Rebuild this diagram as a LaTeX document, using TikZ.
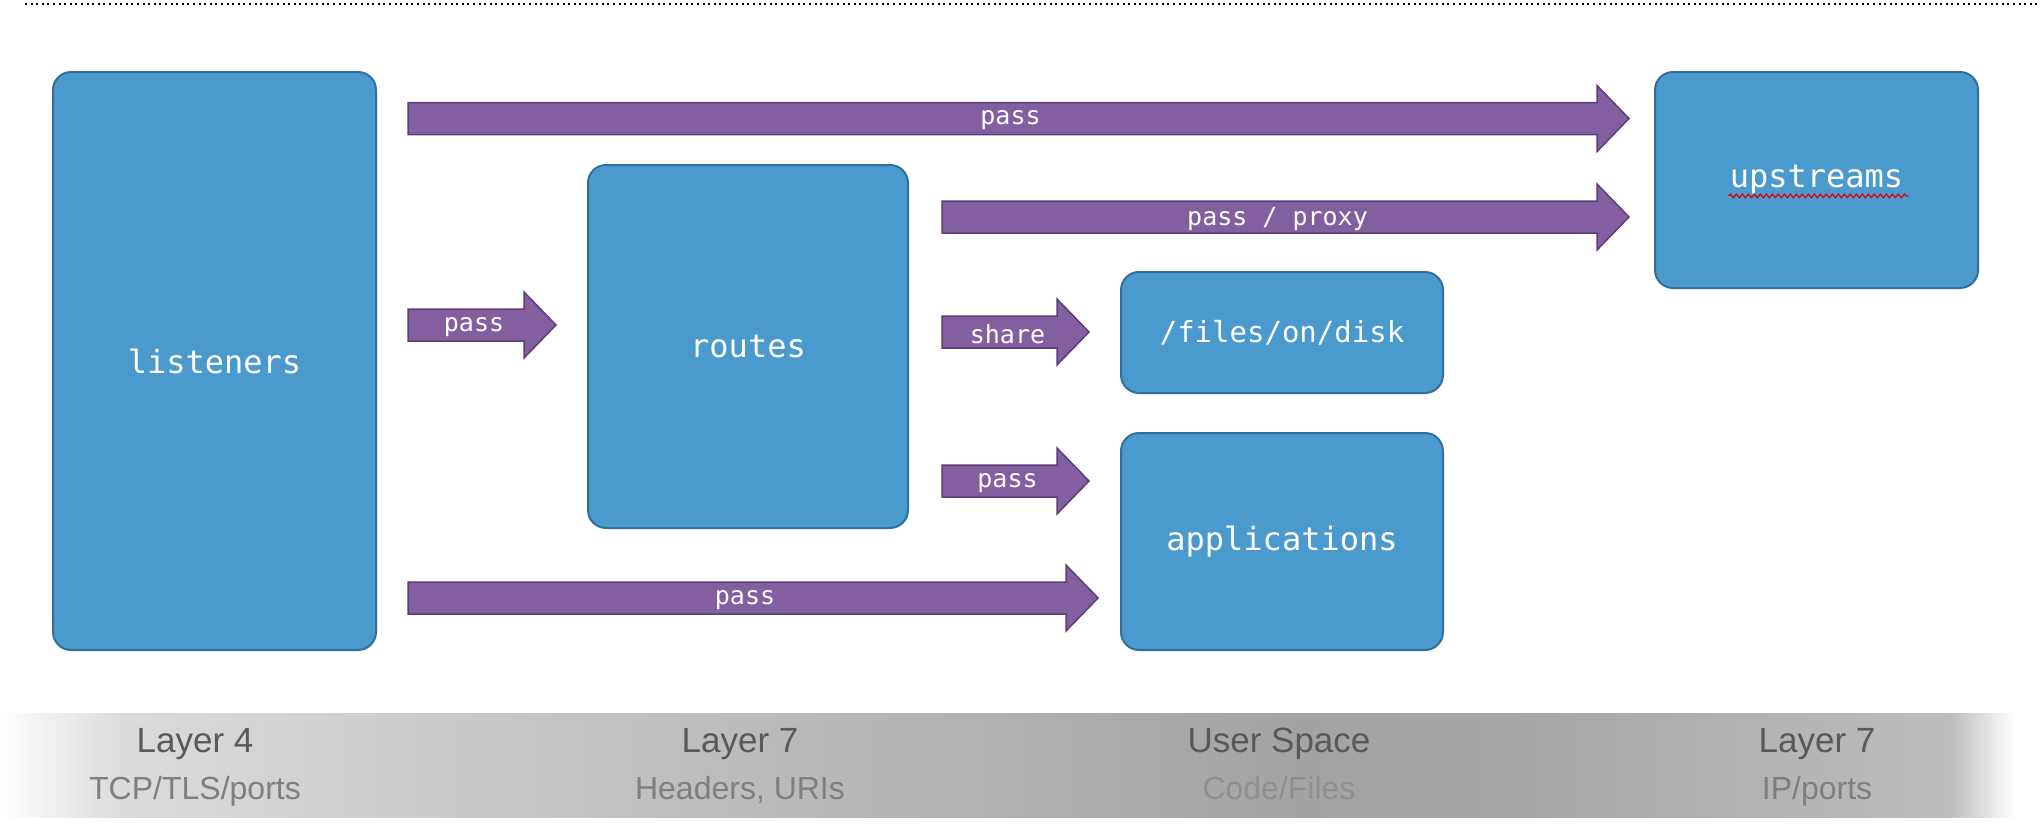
\documentclass[tikz,border=0pt]{standalone}
\usepackage{fontspec}
\setmainfont{Liberation Sans}
\setmonofont{DejaVu Sans Mono}
\usetikzlibrary{calc,decorations.pathmorphing}
\definecolor{boxfill}{HTML}{4A9ACD}
\definecolor{boxline}{HTML}{31709C}
\definecolor{arrfill}{HTML}{845FA0}
\definecolor{arrline}{HTML}{5B3E75}
\definecolor{titlegray}{HTML}{595959}
\definecolor{subgray}{HTML}{7F7F7F}
\definecolor{sublight}{HTML}{8E8E8E}
\tikzset{
  layerbox/.style={draw=boxline, line width=1pt, fill=boxfill, rounded corners=9pt,
    text=white, font=\ttfamily\fontsize{16}{19}\selectfont, inner sep=0pt},
  blockarrow/.style={draw=arrline, line width=0.75pt, fill=arrfill},
  arrlabel/.style={text=white, font=\ttfamily\fontsize{12.5}{15}\selectfont, inner sep=0pt},
  layertitle/.style={text=titlegray, font=\fontsize{17.5}{20}\selectfont, anchor=base},
  layersub/.style={text=subgray, font=\fontsize{16}{19}\selectfont, anchor=base},
}
% #1 from anchor, #2 to anchor, #3 y (px), #4 start gap (px), #5 tip gap (px), #6 label
\newcommand\barrow[6]{%
  \path[blockarrow] let \p1=(#1), \p2=(#2), \p3=(0,#3) in
    (\x1+#4*0.5pt,\y3+8pt) -- (\x2-#5*0.5pt-16pt,\y3+8pt) -- (\x2-#5*0.5pt-16pt,\y3+16.5pt)
    -- (\x2-#5*0.5pt,\y3) -- (\x2-#5*0.5pt-16pt,\y3-16.5pt) -- (\x2-#5*0.5pt-16pt,\y3-8pt)
    -- (\x1+#4*0.5pt,\y3-8pt) -- cycle
    node[arrlabel] at ({0.5*(\x1+#4*0.5pt+\x2-#5*0.5pt-16pt)+4pt},\y3-1pt) {#6};%
}
\begin{document}
\begin{tikzpicture}[x=0.5pt,y=-0.5pt]
\useasboundingbox (0,0) rectangle (2040,830);
% dotted rule
\draw[line width=1pt, dash pattern=on 1pt off 1.8pt] (25,4) -- (2040,4);
% bottom band
\shade[left color=white, right color=black!14] (0,713) rectangle (120,817);
\shade[left color=black!14, right color=black!24] (120,713) rectangle (600,817);
\shade[left color=black!24, right color=black!31] (600,713) rectangle (1020,817);
\shade[left color=black!31, right color=black!36] (1020,713) rectangle (1300,817);
\shade[left color=black!36, right color=black!35] (1300,713) rectangle (1500,817);
\shade[left color=black!35, right color=black!26] (1500,713) rectangle (1950,817);
\shade[left color=black!26, right color=white] (1950,713) rectangle (2015,817);
\node[layertitle] (t1) at (195,752) {Layer 4};
\node[layersub] (s1) at (195,799) {TCP/TLS/ports};
\node[layertitle] (t2) at (740,752) {Layer 7};
\node[layersub] (s2) at (740,799) {Headers, URIs};
\node[layertitle] (t3) at (1279,752) {User Space};
\node[layersub, text=sublight] (s3) at (1279,799) {Code/Files};
\node[layertitle] (t4) at (1817,752) {Layer 7};
\node[layersub] (s4) at (1817,799) {IP/ports};
% boxes
\node[layerbox, minimum width=161.5pt, minimum height=289pt] (listeners) at (214.5,361) {listeners};
\node[layerbox, minimum width=160pt, minimum height=181.5pt] (routes) at (748,346.5) {routes};
\node[layerbox, minimum width=161.5pt, minimum height=108pt] (upstreams) at (1816.5,180) {upstreams};
\node[layerbox, minimum width=161pt, minimum height=60.5pt, font=\ttfamily\fontsize{14.5}{17}\selectfont] (files) at (1282,332.5) {/files/on/disk};
\node[layerbox, minimum width=161pt, minimum height=108.5pt] (apps) at (1282,541.5) {applications};
% spell-check underline
\draw[red!85!black, line width=0.6pt, decorate, decoration={snake, amplitude=0.9pt, segment length=3pt}]
  ([xshift=-44pt,yshift=-4pt]upstreams.base) -- ([xshift=46pt,yshift=-4pt]upstreams.base);
% arrows
\barrow{listeners.east}{upstreams.west}{118.5}{31}{25}{pass}
\barrow{routes.east}{upstreams.west}{217}{33}{25}{pass / proxy}
\barrow{listeners.east}{routes.west}{325}{31}{31}{pass}
\barrow{routes.east}{files.west}{332}{33}{31}{share}
\barrow{routes.east}{apps.west}{481}{33}{31}{pass}
\barrow{listeners.east}{apps.west}{598}{31}{22}{pass}
\end{tikzpicture}
\end{document}
